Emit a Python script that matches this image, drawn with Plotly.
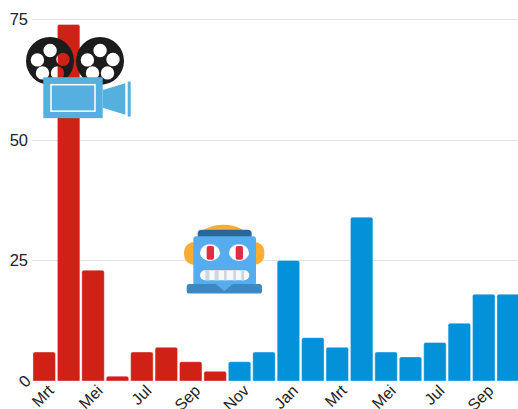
import base64
import plotly.graph_objects as go

months = ["Mrt","Apr","Mei","Jun","Jul","Aug","Sep","Okt","Nov","Dec","Jan","Feb",
          "Mrt","Apr","Mei","Jun","Jul","Aug","Sep","Okt"]
values = [6,74,23,1,6,7,4,2,4,6,25,9,7,34,6,5,8,12,18,18]
red_count = 8
RED = "#cf2116"
BLUE = "#0391d9"
y_ticks = [25, 50, 75]
W, H = 518, 409
L, R, T, B = 32, 0, 10, 27.5
plot_h = H - T - B
plot_w = W - L - R
step = 24.42
y_top = plot_h / 4.824
x_max = plot_w / step - 0.5
tick_idx = list(range(0, 20, 2))
tick_text = [months[i] for i in tick_idx]

def reel(cx, cy):
    r, hr = 24, 6.7
    holes = [(0.1,-10.5),(-12.6,-1),(13,-1.5),(-7.5,12),(7.5,12)]
    d = f"M{cx-r},{cy}a{r},{r} 0 1,0 {2*r},0a{r},{r} 0 1,0 {-2*r},0Z"
    for dx, dy in holes:
        hx, hy = cx + dx, cy + dy
        d += f"M{hx-hr},{hy}a{hr},{hr} 0 1,0 {2*hr},0a{hr},{hr} 0 1,0 {-2*hr},0Z"
    return f'<path fill="#1c1c1c" fill-rule="evenodd" d="{d}"/>'

camera_svg = f'''<svg xmlns="http://www.w3.org/2000/svg" viewBox="20 35 120 90" width="120" height="90">
{reel(50,61)}{reel(100,61)}
<rect x="43.3" y="77.3" width="59.4" height="41" fill="#55b0e0"/>
<rect x="51" y="84.8" width="44" height="26.5" fill="none" stroke="#fff" stroke-width="1.5"/>
<polygon points="102.7,90 125.3,83.3 125.3,115 102.7,108" fill="#55b0e0"/>
<rect x="127.7" y="81.7" width="3" height="35" fill="#55b0e0"/>
</svg>'''

robot_svg = '''<svg xmlns="http://www.w3.org/2000/svg" viewBox="0 0 330 270" width="110" height="90">
<ellipse cx="160" cy="62" rx="66" ry="32" fill="#ffac33"/>
<rect x="42" y="82" width="60" height="68" rx="30" fill="#ffac33"/>
<rect x="225" y="82" width="58" height="68" rx="29" fill="#ffac33"/>
<rect x="83" y="45" width="162" height="30" rx="12" fill="#2a6797"/>
<rect x="70" y="65" width="188" height="148" rx="8" fill="#55acee"/>
<ellipse cx="120" cy="114" rx="30" ry="25" fill="#fff"/>
<ellipse cx="207" cy="114" rx="30" ry="25" fill="#fff"/>
<rect x="110" y="94" width="22" height="41" rx="6" fill="#dd2e44"/>
<rect x="197" y="94" width="22" height="41" rx="6" fill="#dd2e44"/>
<rect x="90" y="167" width="148" height="30" rx="15" fill="#f5f8fa"/>
<rect x="106" y="167" width="12" height="30" fill="#ccd6dd"/>
<rect x="134" y="167" width="12" height="30" fill="#ccd6dd"/>
<rect x="162" y="167" width="8" height="30" fill="#ccd6dd"/>
<rect x="190" y="167" width="8" height="30" fill="#ccd6dd"/>
<rect x="214" y="167" width="8" height="30" fill="#ccd6dd"/>
<rect x="50" y="208" width="226" height="29" rx="8" fill="#3b88c3"/>
<polygon points="138,208 188,208 163,230" fill="#55acee"/>
</svg>'''

def uri(svg):
    return "data:image/svg+xml;base64," + base64.b64encode(svg.encode()).decode()

def px(x):
    return (x - L) / plot_w

def py(y):
    return (H - B - y) / plot_h

images = [
    dict(source=uri(camera_svg), xref="paper", yref="paper", x=px(20), y=py(35),
         sizex=120/plot_w, sizey=90/plot_h, xanchor="left", yanchor="top",
         sizing="stretch", layer="above"),
    dict(source=uri(robot_svg), xref="paper", yref="paper", x=px(170), y=py(215),
         sizex=110/plot_w, sizey=90/plot_h, xanchor="left", yanchor="top",
         sizing="stretch", layer="above"),
]

colors = [RED if i < red_count else BLUE for i in range(len(values))]
fig = go.Figure(go.Bar(
    x=list(range(len(values))), y=values,
    marker=dict(color=colors, cornerradius=2, line=dict(color="rgba(255,255,255,0.6)", width=0.6)),
    width=0.92, hoverinfo="skip"))
fig.update_layout(
    width=W, height=H, margin=dict(l=L, r=R, t=T, b=B, pad=0, autoexpand=False),
    plot_bgcolor="white", paper_bgcolor="white", showlegend=False,
    font=dict(family="Liberation Sans", size=16, color="#222"),
    images=images,
    xaxis=dict(range=[-0.5, x_max], tickmode="array", tickvals=tick_idx, ticktext=tick_text,
               tickangle=-45, showgrid=False, zeroline=False, ticks="", ticklen=0, automargin=False,
               ticklabelshift=5, ticklabelstandoff=-4,
               tickfont=dict(size=16, color="#222")),
    yaxis=dict(range=[0, y_top], tickmode="array", tickvals=y_ticks, ticktext=[str(v) for v in y_ticks],
               showgrid=True, gridcolor="#e2e2e2", gridwidth=1, zeroline=False, ticks="", automargin=False,
               ticklabelstandoff=3, tickfont=dict(size=16.5, color="#222")),
    annotations=[dict(text="0", xref="paper", yref="y", x=0, y=0, xanchor="right", yanchor="middle",
                      xshift=5, showarrow=False, textangle=-45, font=dict(size=16.5, color="#222"))],
)
fig.write_html("out.html", config=dict(displayModeBar=False),
               post_script="document.body.style.margin='0';document.body.style.overflow='hidden';")
